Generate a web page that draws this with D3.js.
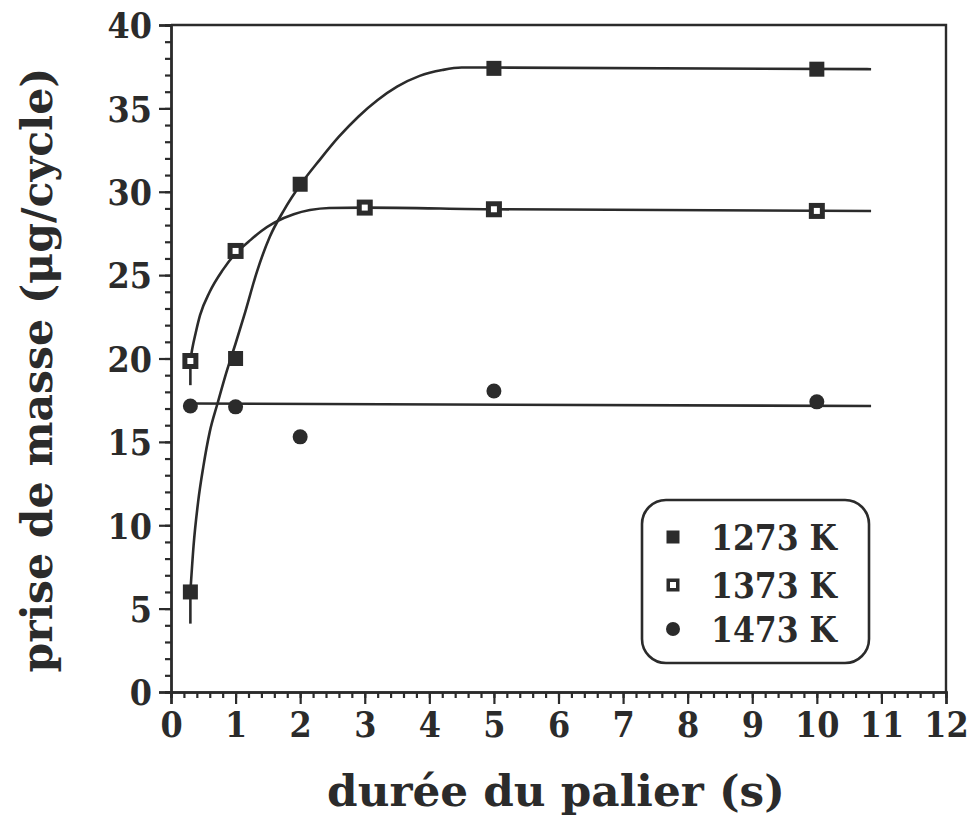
<!DOCTYPE html>
<html>
<head>
<meta charset="utf-8">
<script src="https://cdn.jsdelivr.net/npm/d3@7"></script>
<style>
  html, body { margin: 0; padding: 0; background: #fff; }
  svg { display: block; }
  text { font-family: "DejaVu Serif", "Liberation Serif", serif; font-weight: bold; fill: #2b2b2b; }
</style>
</head>
<body>
<svg id="chart" width="978" height="825"></svg>
<script>
// ---------- data ----------
const seriesNames = ["1273 K", "1373 K", "1473 K"];

const x1273 = [0.3, 1, 2, 5, 10];
const y1273 = [6.0, 20.0, 30.45, 37.4, 37.35];
const errLow1273 = [1.9, 0, 0, 0, 0];

const x1373 = [0.3, 1, 3, 5, 10];
const y1373 = [19.85, 26.45, 29.05, 28.95, 28.85];
const errLow1373 = [1.45, 0, 0, 0, 0];

const x1473 = [0.3, 1, 2, 5, 10];
const y1473 = [17.15, 17.1, 15.3, 18.05, 17.4];

// fitted curves as drawn in the reference
const fitX1273 = [0.3, 0.35, 0.42, 0.5, 0.6, 0.72, 0.86, 1.0, 1.15, 1.33, 1.53, 1.75, 2.0, 2.3, 2.6, 2.9, 3.2, 3.5, 3.85, 4.2, 4.5, 5.0, 10.84];
const fitY1273 = [6.0, 8.8, 11.4, 13.5, 15.6, 17.3, 19.2, 20.9, 22.8, 25.2, 27.3, 28.9, 30.4, 31.9, 33.3, 34.5, 35.5, 36.3, 36.95, 37.3, 37.45, 37.45, 37.35];

const fitX1373 = [0.3, 0.33, 0.38, 0.45, 0.6, 0.8, 1.0, 1.2, 1.4, 1.6, 1.9, 2.15, 2.45, 3.0, 5.0, 10.84];
const fitY1373 = [19.9, 20.6, 21.5, 22.6, 24.0, 25.3, 26.3, 27.0, 27.65, 28.15, 28.65, 28.9, 29.03, 29.05, 28.95, 28.85];

const fitX1473 = [0.3, 10.84];
const fitY1473 = [17.3, 17.15];

const xTickValues = d3.range(0, 13);
const yTickValues = [0, 5, 10, 15, 20, 25, 30, 35, 40];
const xTitle = "durée du palier (s)";
const yTitle = "prise de masse (\u03bcg/cycle)";

// ---------- layout ----------
const ink = "#2b2b2b";
const svg = d3.select("#chart");
const L = 171, R = 946, T = 25, B = 692;

const x = d3.scaleLinear().domain([0, 12]).range([L, R]);
const y = d3.scaleLinear().domain([0, 40]).range([B, T]);

const g = svg.append("g");

// frame (top and right lines)
g.append("path")
  .attr("d", `M${L},${T}H${R}V${B}`)
  .attr("fill", "none").attr("stroke", ink).attr("stroke-width", 2.4);

// x axis
const xMinor = d3.axisBottom(x).tickValues(d3.range(0, 60).map(i => i * 0.2)).tickSize(6).tickFormat("");
const xMajor = d3.axisBottom(x).tickValues(xTickValues).tickSize(12).tickFormat(d3.format("d")).tickPadding(7);
const gxm = g.append("g").attr("transform", `translate(0,${B})`).call(xMinor);
const gx = g.append("g").attr("transform", `translate(0,${B})`).call(xMajor);

// y axis
const yMinor = d3.axisLeft(y).tickValues(d3.range(0, 41)).tickSize(6).tickFormat("");
const yMajor = d3.axisLeft(y).tickValues(yTickValues).tickSize(12).tickFormat(d3.format("d")).tickPadding(7);
const gym = g.append("g").attr("transform", `translate(${L},0)`).call(yMinor);
const gy = g.append("g").attr("transform", `translate(${L},0)`).call(yMajor);

[gxm, gx, gym, gy].forEach(a => {
  a.select(".domain").attr("stroke", ink).attr("stroke-width", 2.4);
  a.selectAll(".tick line").attr("stroke", ink).attr("stroke-width", 2.2);
  a.selectAll(".tick text")
    .attr("fill", ink)
    .style("font-family", "'DejaVu Serif Condensed', 'DejaVu Serif', serif")
    .style("font-weight", "bold")
    .style("font-size", "35.5px");
});
gx.selectAll(".tick text").attr("dy", "0.74em");
gy.selectAll(".tick text").attr("dy", "0.36em");

// axis titles
svg.append("text")
  .attr("id", "xtitle")
  .attr("x", 556).attr("y", 806)
  .attr("text-anchor", "middle")
  .style("font-size", "44px")
  .text(xTitle);

svg.append("text")
  .attr("id", "ytitle")
  .attr("transform", "translate(52,370) rotate(-90)")
  .attr("text-anchor", "middle")
  .style("font-size", "44px")
  .text(yTitle);

function fitWidth(sel, target) {
  const node = sel.node();
  const w = node.getComputedTextLength();
  const fs = parseFloat(sel.style("font-size"));
  sel.style("font-size", (fs * target / w) + "px");
}
fitWidth(svg.select("#xtitle"), 458);
fitWidth(svg.select("#ytitle"), 605);

// ---------- curves ----------
const line = d3.line().x(d => x(d[0])).y(d => y(d[1])).curve(d3.curveMonotoneX);
const fits = [
  d3.zip(fitX1273, fitY1273),
  d3.zip(fitX1373, fitY1373),
  d3.zip(fitX1473, fitY1473)
];
fits.forEach(f => {
  g.append("path").attr("d", line(f))
    .attr("fill", "none").attr("stroke", ink).attr("stroke-width", 2.6);
});

// error bars (lower halves visible)
function errBars(xs, ys, errs) {
  xs.forEach((xv, i) => {
    if (errs[i] > 0) {
      g.append("line")
        .attr("x1", x(xv)).attr("x2", x(xv))
        .attr("y1", y(ys[i])).attr("y2", y(ys[i] - errs[i]))
        .attr("stroke", ink).attr("stroke-width", 2.6);
    }
  });
}
errBars(x1273, y1273, errLow1273);
errBars(x1373, y1373, errLow1373);

// ---------- markers ----------
function filledSquare(parent, cx, cy, s) {
  parent.append("rect").attr("x", cx - s / 2).attr("y", cy - s / 2)
    .attr("width", s).attr("height", s).attr("fill", ink);
}
function openSquare(parent, cx, cy, s, sw) {
  const inner = s - sw;
  parent.append("rect").attr("x", cx - inner / 2).attr("y", cy - inner / 2)
    .attr("width", inner).attr("height", inner)
    .attr("fill", "#fff").attr("stroke", ink).attr("stroke-width", sw);
}
function dot(parent, cx, cy, r) {
  parent.append("circle").attr("cx", cx).attr("cy", cy).attr("r", r).attr("fill", ink);
}

x1273.forEach((xv, i) => filledSquare(g, x(xv), y(y1273[i]), 15));
x1373.forEach((xv, i) => openSquare(g, x(xv), y(y1373[i]), 16, 5));
x1473.forEach((xv, i) => dot(g, x(xv), y(y1473[i]), 7.5));

// ---------- legend ----------
const leg = svg.append("g");
leg.append("rect")
  .attr("x", 642).attr("y", 500).attr("width", 227).attr("height", 163)
  .attr("rx", 24).attr("ry", 24)
  .attr("fill", "#fff").attr("stroke", ink).attr("stroke-width", 2.6);

const legY = [537, 585, 629];
filledSquare(leg, 673, legY[0], 13);
openSquare(leg, 673, legY[1], 13, 3.5);
dot(leg, 673, legY[2], 7);

seriesNames.forEach((name, i) => {
  const t = leg.append("text")
    .attr("x", 711).attr("y", legY[i])
    .attr("dy", "0.36em")
    .style("font-family", "'DejaVu Serif Condensed', 'DejaVu Serif', serif")
    .style("font-size", "34px")
    .text(name);
  fitWidth(t, 126);
});
</script>
</body>
</html>
